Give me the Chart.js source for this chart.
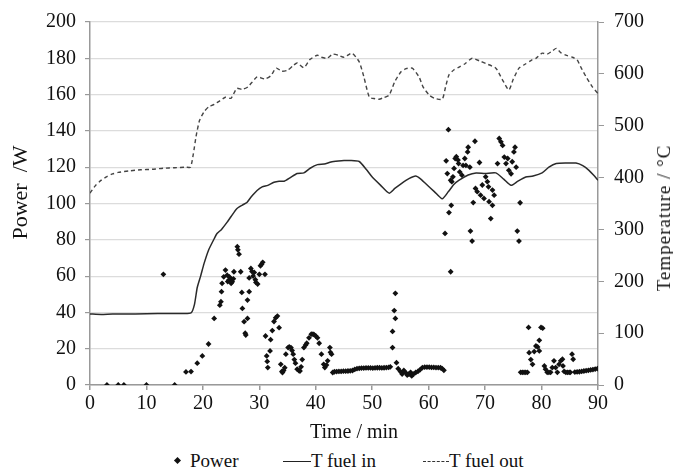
<!DOCTYPE html>
<html>
<head>
<meta charset="utf-8">
<script src="https://cdn.jsdelivr.net/npm/chart.js@4"></script>
<style>
  body { margin: 0; background: #fff; }
  #wrap { position: relative; width: 673px; height: 470px; }
  #chartBox { position: absolute; left: 0; top: 0; width: 673px; height: 447px; }
  #legend { position: absolute; left: 0; top: 450px; width: 673px; height: 22px;
    font-family: "Liberation Serif", serif; font-size: 19px; color: #111; line-height: 22px; }
  .item { position: absolute; top: 0; white-space: nowrap; }
  .dot { display: inline-block; width: 5px; height: 5px; background: #111; transform: rotate(45deg); margin-right: 10px; vertical-align: middle; position: relative; top: -2px; }
  .ln { display: inline-block; width: 28px; border-top: 1.5px solid #222; vertical-align: middle; position: relative; top: -1px; }
  .ln.dash { border-top: 1.5px dashed #333; width: 26px; }
  #rightTitle { position: absolute; left: 664px; top: 218px; transform: translate(-50%, -50%) rotate(-90deg);
    font-family: "Liberation Serif", serif; font-size: 19px; letter-spacing: 1px; color: #111; white-space: nowrap; }
</style>
</head>
<body>
<div id="wrap">
  <div id="chartBox"><canvas id="myChart"></canvas></div>
  <div id="rightTitle">Temperature / °C</div>
  <div id="legend">
    <span class="item" style="left:175px"><span class="dot"></span>Power</span>
    <span class="item" style="left:283px"><span class="ln"></span>T fuel in</span>
    <span class="item" style="left:423px"><span class="ln dash"></span>T fuel out</span>
  </div>
</div>
<script>
// time in minutes, power in W
const powerMin = [
  3, 5, 6, 10, 15, 13,
  17.0, 17.9, 19.0, 19.9, 21.0, 22.0, 23.0, 23.2, 23.3, 23.4, 23.7, 24.0, 24.3, 24.4, 24.6, 24.7, 24.9, 25.0, 25.2, 25.4, 25.5,
  26.1, 26.2, 26.4, 26.7, 26.9, 27.0, 27.3, 27.5, 27.6, 27.9, 27.9, 28.2, 28.2, 28.5, 28.7, 28.9, 29.1, 29.3, 29.4, 29.7, 30.0, 30.2, 30.4, 30.6, 31.0,
  31.1, 31.3, 31.4, 31.5, 31.9, 32.0, 32.3, 32.6, 32.9, 33.2, 33.5, 33.8, 34.0, 34.1, 34.3, 34.5, 34.7, 35.1, 35.3, 35.6, 35.8, 36.0, 36.2, 36.4, 36.7,
  37.0, 37.2, 37.4, 37.6, 37.9, 38.2, 38.4, 38.8, 39.2, 39.5, 39.7, 40.0, 40.3, 40.6, 41.0, 41.4, 41.6, 41.9, 42.1, 42.5, 42.6, 42.8, 43.0,
  43.3, 43.7, 44.1, 44.5, 44.9, 45.3, 45.7, 46.1, 46.5, 46.9, 47.3, 47.7, 48.1, 48.5, 48.9, 49.3, 49.7, 50.1, 50.5, 50.9, 51.3, 51.7, 52.1, 52.5, 52.9, 53.2,
  53.6, 53.6, 53.9, 54.1, 54.1, 54.3, 54.6, 55.0, 55.3, 55.6, 55.9, 56.2, 56.5, 56.8, 57.0, 57.3, 57.7, 58.1, 58.5, 58.9, 59.3, 59.7, 60.1, 60.5, 60.9, 61.3, 61.7, 62.1, 62.4, 62.7,
  62.9, 63.1, 63.3, 63.5, 63.6, 63.9, 63.9, 64.0, 64.1, 64.3, 64.5, 64.7, 64.9, 65.2, 65.3, 65.5, 65.9, 66.1, 66.4, 66.6, 66.9, 67.0, 67.3,
  67.4, 67.7, 67.9, 68.2, 68.3, 68.6, 69.0, 69.2, 69.5, 69.8, 70.1, 70.4, 70.6, 70.7, 71.0, 71.3, 71.3, 71.6,
  72.2, 72.5, 72.8, 73.1, 73.4, 73.7, 74.0, 74.2, 74.6, 74.8, 75.1, 75.3, 75.5, 75.7, 76.0, 76.2,
  76.3, 76.6, 76.9, 77.2, 77.5, 77.7, 77.8, 78.1, 78.4, 78.7, 79.0, 79.3, 79.6, 79.6, 79.9, 80.2, 80.5, 80.7, 81.0, 81.3, 81.6, 81.9, 82.2, 82.5, 82.8,
  83.1, 83.4, 83.7, 83.8, 84.0, 84.3, 84.6, 84.9, 85.1, 85.4, 85.6, 85.9, 86.3, 86.7, 87.1, 87.5, 87.9, 88.3, 88.7, 89.1, 89.5, 89.9
];
const powerW = [
  0, 0, 0, 0, 0, 61,
  7.2, 7.4, 12, 16, 22.6, 36.7, 44, 45.9, 51.4, 56, 59.6, 63.3, 60.5, 57, 57.8, 59.5, 58.7, 56, 56.9, 58.5, 62.4,
  76.2, 74.5, 72.1, 62.4, 51, 42.2, 34.9, 28.5, 27.5, 36.7, 46.8, 51.4, 59, 64.2, 62.5, 60, 62, 58, 56.5, 55.6, 61, 65.7, 66.5, 67.6, 61,
  27, 16, 13, 9.6, 18.8, 25, 30, 35, 37, 38, 31.6, 11.4, 7.5, 6.9, 8, 9.5, 17, 20.6, 21, 20.6, 19, 17, 14, 12, 8.7,
  8, 7.7, 10, 14, 20.6, 22, 23, 26, 28, 28, 27.7, 27, 26, 23, 17, 11.4, 9.6, 11, 13.3, 20.6, 18, 17, 6.9,
  7.3, 7.4, 7.5, 7.5, 7.6, 7.6, 7.7, 7.8, 8.0, 8.6, 9.0, 9.2, 9.3, 9.3, 9.4, 9.4, 9.4, 9.3, 9.4, 9.5, 9.5, 9.4, 9.5, 9.6, 9.7, 10,
  20.6, 29.5, 41, 36.7, 50.5, 12.3, 9, 7.4, 6, 8, 6.9, 5.5, 6, 7, 5, 6, 6.9, 7.5, 8.5, 9.6, 9.8, 9.8, 9.8, 9.7, 9.7, 9.6, 9.6, 9.5, 9.0, 8.1,
  83.5, 123.5, 116.5, 140.7, 95, 112.8, 62.4, 99, 112, 114.7, 119.3, 124.8, 125.8, 123.9, 122, 117.4, 115.6, 121, 124.8, 121, 128.4, 131, 120,
  84.8, 79.3, 100.5, 134.3, 108.3, 106.5, 122.6, 104.6, 110.2, 102.8, 114.7, 112, 109.2, 101, 91.7, 107.4, 99, 104.6,
  122, 135.8, 134, 132, 125.6, 122, 124.8, 118.3, 116.4, 123, 128.4, 131, 120, 84.8, 79.3, 100.4,
  7, 7, 7, 7, 7, 31.7, 17.8, 14, 11.4, 18.4, 21.5, 21, 24.6, 18.8, 31.7, 31.3, 10.5, 8.7, 7, 7, 7, 9.6, 13.3, 9.6, 7,
  11.4, 13.3, 14.2, 10.5, 7.5, 7, 7, 7, 7, 17, 14.2, 7.1, 7.2, 7.3, 7.5, 7.7, 7.9, 8.1, 8.3, 8.5, 8.8, 9
];

// fuel inlet temperature, °C
const tinMin = [0, 2, 4, 8, 12, 16, 17.9, 18.5, 19, 19.6, 20.2, 21, 22, 22.5, 23.3, 24.3, 25, 26, 27, 27.8, 28.5, 29.6, 30.5, 31.5, 32.6, 33.5, 34.4, 35.5, 36.7, 37.9, 39, 40.3, 41.5, 42.7, 44, 45, 46, 47.7, 49, 50, 51.5, 53, 54, 55.1, 56.5, 57.7, 58.5, 59.5, 61, 62.4, 63.5, 64.5, 65.4, 67, 68.4, 70, 71.9, 73.3, 74.6, 75.8, 77.2, 78.5, 80.1, 81.3, 82.6, 84.5, 86.1, 87.3, 88.4, 89.2, 90];
const tinC = [137, 136, 137, 137, 138, 138, 139, 155, 188, 210, 234, 260, 282, 292, 300, 314, 325, 340, 347, 352, 362, 375, 382, 385, 391, 393, 393, 400, 408, 409, 418, 425, 426, 430, 432, 433, 433, 431, 415, 401, 385, 370, 379, 388, 398, 403, 398, 388, 373, 359, 373, 387, 395, 405, 409, 408, 409, 397, 385, 393, 401, 403, 409, 420, 427, 428, 428, 423, 414, 405, 395];

// fuel outlet temperature, °C
const toutMin = [0, 1, 2, 3, 4, 5, 7, 9, 11, 13, 15, 17, 17.8, 18.3, 18.8, 19.4, 20.2, 21, 22, 23, 24, 25, 26, 27, 28, 29.6, 31, 32, 33, 34, 35, 36, 36.7, 37.9, 39, 40.3, 41, 42, 43, 44, 45, 46.4, 47.7, 48.5, 49.5, 50.5, 51.2, 52, 53, 54, 55.1, 56, 57.1, 58.3, 59, 60.1, 61, 62.4, 63, 63.6, 64.5, 65.4, 66.5, 67.7, 69, 70.1, 71.9, 73, 74.2, 75, 76, 77, 78.3, 79, 80.1, 81, 82, 82.6, 83.5, 84.3, 85.5, 86.3, 87, 87.9, 89, 90];
const toutC = [370, 385, 395, 402, 407, 410, 413, 415, 416, 418, 419, 420, 420, 445, 480, 510, 527, 536, 541, 548, 555, 553, 572, 570, 575, 594, 590, 596, 611, 605, 607, 616, 621, 612, 628, 636, 632, 630, 638, 636, 632, 640, 623, 595, 555, 552, 551, 554, 559, 585, 604, 610, 611, 594, 575, 559, 553, 551, 575, 598, 608, 613, 620, 630, 625, 620, 611, 590, 569, 590, 611, 618, 627, 630, 640, 638, 645, 649, 640, 636, 632, 627, 612, 594, 575, 562];

const font = 'Liberation Serif';
const toXY = (xs, ys) => xs.map((x, i) => ({ x: x, y: ys[i] }));

const data = {
    datasets: [
        {
            label: 'Power',
            data: toXY(powerMin, powerW),
            showLine: false,
            pointStyle: 'rectRot',
            pointRadius: 2.9,
            pointBackgroundColor: '#111',
            pointBorderWidth: 0,
            yAxisID: 'y',
            order: 1
        },
        {
            label: 'T fuel in',
            data: toXY(tinMin, tinC),
            borderColor: '#2a2a2a',
            borderWidth: 1.5,
            pointRadius: 0,
            tension: 0.2,
            yAxisID: 'y2',
            order: 2
        },
        {
            label: 'T fuel out',
            data: toXY(toutMin, toutC),
            borderColor: '#444',
            borderWidth: 1.4,
            borderDash: [4, 3],
            pointRadius: 0,
            tension: 0.2,
            yAxisID: 'y2',
            order: 3
        }
    ]
};

const tickFont = { family: font, size: 20 };

const config = {
    type: 'line',
    data: data,
    options: {
        responsive: true,
        maintainAspectRatio: false,
        animation: false,
        layout: { padding: { top: 22, left: 0, right: 0, bottom: 0 } },
        plugins: {
            legend: { display: false },
            tooltip: { enabled: false }
        },
        scales: {
            x: {
                type: 'linear',
                min: 0,
                max: 90,
                ticks: { stepSize: 10, color: '#111', font: tickFont, padding: 2, maxRotation: 0 },
                grid: { drawOnChartArea: false, drawTicks: true, tickLength: 5, tickColor: '#999', lineWidth: 1.5 },
                border: { color: '#999', width: 1.5 },
                title: { display: true, text: '    Time / min', color: '#111', font: { family: font, size: 20 }, padding: { top: 0, bottom: 2 } },
                afterFit: s => { s.height = 62; }
            },
            y: {
                position: 'left',
                min: 0,
                max: 200,
                ticks: { stepSize: 20, color: '#111', font: tickFont, padding: 9 },
                grid: { color: '#dcdcdc', lineWidth: 1.2, tickLength: 5, tickColor: '#999' },
                border: { color: '#999', width: 1.5 },
                title: { display: true, text: '    Power  /W', color: '#111', font: { family: font, size: 22 }, padding: { top: 8, bottom: 0 } },
                afterFit: s => { s.width = 90; }
            },
            y2: {
                position: 'right',
                min: 0,
                max: 700,
                ticks: { stepSize: 100, color: '#111', font: tickFont, padding: 10 },
                grid: { drawOnChartArea: false, tickLength: 6, tickColor: '#999' },
                border: { color: '#999', width: 1.5 },
                afterFit: s => { s.width = 75; }
            }
        }
    }
};

const myChart = new Chart(document.getElementById('myChart'), config);
</script>
</body>
</html>
